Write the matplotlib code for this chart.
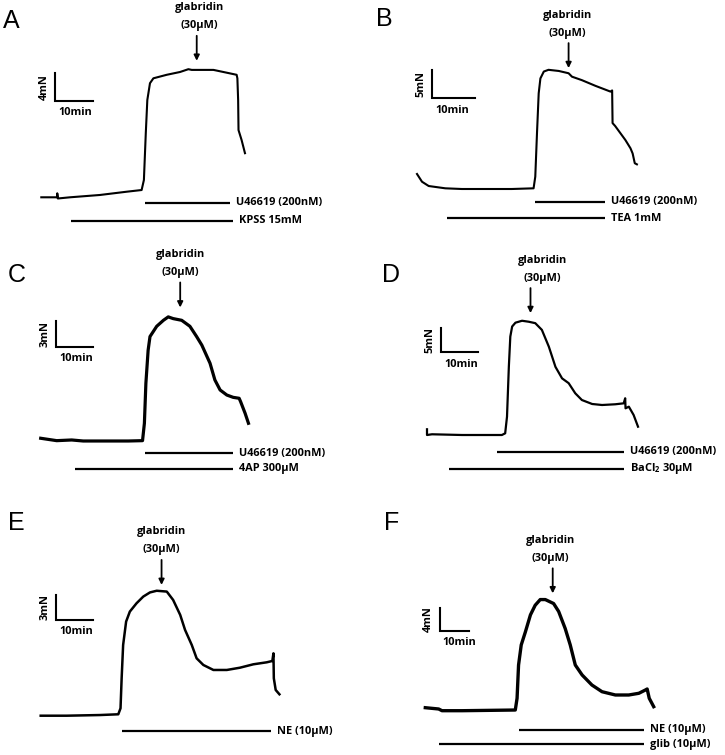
import numpy as np
import matplotlib.pyplot as plt

plt.rcParams['font.family'] = ['Open Sans', 'DejaVu Sans']
plt.rcParams['mathtext.fontset'] = 'custom'
plt.rcParams['mathtext.rm'] = 'Open Sans:bold'

W, H = 725, 755
PT = 0.72  # points per pixel at dpi 100
FS = 7.9

# ---- traces: time (min) vs tension (mN) ----
a_t = [0, 4.2, 4.2, 4.35, 7.55, 15.4, 22.5, 26.4, 27.0, 27.5, 27.9, 28.6, 29.5, 33.0, 36.5, 38.7,
       39.6, 41.8, 45.3, 48.8, 51.4, 51.6, 51.8, 51.9, 52.7, 53.6]
a_f = [0, 0, 0.57, -0.17, 0, 0.33, 0.8, 1.04, 2.47, 9.19, 13.9, 16.3, 17.0, 17.5, 17.9, 18.3,
       18.2, 18.2, 18.2, 17.8, 17.5, 17.0, 13.9, 9.6, 8.2, 6.3]

b_t = [0, 1.17, 2.74, 6.63, 10.5, 22.2, 27.3, 27.7, 28.1, 28.5, 28.9, 29.7, 30.8, 33.2, 35.5,
       36.3, 38.6, 41.8, 45.3, 45.7, 45.8, 46.4, 48.8, 50.0, 50.5, 51.0, 51.5]
b_f = [2.62, 1.27, 0.52, 0.12, 0, 0, 0.12, 2.15, 9.72, 16.7, 19.3, 20.5, 20.8, 20.6, 20.2,
       19.6, 19.0, 18.0, 17.0, 17.2, 11.5, 11.0, 8.55, 7.1, 6.2, 4.5, 4.3]

c_t = [0, 4.29, 8.31, 11.4, 23.5, 27.3, 27.8, 28.2, 28.8, 29.3, 30.2, 31.1, 32.9, 34.2, 35.5,
       37.8, 40.0, 41.8, 43.2, 45.4, 46.7, 48.1, 49.9, 51.6, 53.2, 53.6, 54.8, 55.7]
c_f = [0.32, 0.04, 0.12, 0, 0, 0.04, 2.07, 6.74, 10.6, 12.2, 12.8, 13.4, 14.1, 14.5, 14.3,
       14.1, 13.4, 12.2, 11.2, 9.08, 7.13, 5.96, 5.37, 5.1, 4.99, 4.59, 3.24, 2.07]

d_t = [0, 0, 1.36, 9.54, 20.4, 21.3, 21.8, 22.3, 22.7, 23.2, 24.1, 25.9, 27.7, 29.5, 31.3,
       33.2, 35.0, 36.8, 38.6, 40.4, 42.2, 45.0, 47.7, 51.3, 53.6, 54.0, 54.1, 55.0, 56.3, 57.5]
d_f = [1.19, 0, 0.15, 0, 0, 0.35, 3.81, 14.2, 20.5, 22.6, 23.4, 23.8, 23.6, 23.3, 21.9,
       18.4, 14.2, 11.8, 10.8, 8.69, 7.29, 6.46, 6.25, 6.4, 6.6, 7.65, 5.56, 5.9, 4.17, 1.73]

e_t = [0, 6.97, 15.9, 20.8, 21.4, 21.7, 22.1, 22.9, 23.9, 25.7, 27.5, 29.3, 31.1, 33.8, 35.5,
       37.4, 38.7, 40.5, 41.8, 43.6, 46.3, 49.9, 53.4, 57.0, 60.6, 62.1, 62.4, 62.5, 63.0, 64.0]
e_f = [0, 0, 0.08, 0.17, 0.89, 4.49, 8.49, 11.3, 12.5, 13.5, 14.3, 14.8, 15.0, 14.9, 13.9,
       12.1, 10.3, 8.49, 6.89, 6.09, 5.49, 5.49, 5.76, 6.17, 6.41, 6.57, 7.49, 4.49, 3.09, 2.57]

f_t = [0, 4.51, 5.62, 12.4, 30.3, 30.9, 31.4, 32.3, 33.7, 35.4, 37.0, 38.7, 40.4, 43.2, 44.9,
       47.1, 48.8, 50.5, 52.8, 56.1, 59.5, 64.0, 68.5, 71.9, 74.1, 74.7, 75.4, 76.9]
f_f = [0.53, 0.3, 0, 0, 0.12, 2.19, 8.06, 11.6, 13.9, 16.9, 18.6, 19.6, 19.6, 18.9, 17.5,
       14.5, 11.6, 8.06, 6.3, 4.53, 3.35, 2.77, 2.77, 3.07, 3.65, 3.83, 2.19, 0.71]

# drug application bars: (label, start min, end min)
a_drugs = [("U46619 (200nM)", 27.3, 49.7), ("KPSS 15mM", 7.8, 50.4)]
b_drugs = [("U46619 (200nM)", 27.6, 44.0), ("TEA 1mM", 7.0, 44.0)]
c_drugs = [("U46619 (200nM)", 28.0, 51.6), ("4AP 300\u00b5M", 9.2, 51.6)]
d_drugs = [("U46619 (200nM)", 19.1, 53.6), ("BaCl$_\\mathregular{2}$ 30\u00b5M", 6.1, 53.6)]
e_drugs = [("NE (10\u00b5M)", 21.9, 61.7)]
f_drugs = [("NE (10\u00b5M)", 31.6, 73.5), ("glib (10\u00b5M)", 4.5, 73.5)]

# glabridin addition time (min)
glab_t = [40.9, 35.5, 37.4, 28.2, 32.4, 42.9]
# vertical scale bar size (mN), horizontal is 10 min
scale_mn = [4, 5, 3, 5, 3, 4]

fig = plt.figure(figsize=(7.25, 7.55), dpi=100)


def panel_axes(ox, oy, sx, sy):
    # full-figure axes, origin at pixel (ox, oy), sx px/min, sy px/mN
    ax = fig.add_axes([0, 0, 1, 1], facecolor='none')
    ax.set_xlim(-ox / sx, (W - ox) / sx)
    ax.set_ylim((oy - H) / sy, oy / sy)
    ax.axis('off')
    return ax


def draw(ax, t, f, lw, drugs, levels, gt, gtip, gdx, sb, mn):
    ax.plot(t, f, color='k', lw=lw, solid_joinstyle='round')
    for (name, t0, t1), lv in zip(drugs, levels):
        ax.plot([t0, t1], [lv, lv], color='k', lw=1.6, solid_capstyle='butt')
        ax.annotate(name, (t1, lv), xytext=(6 * PT, 0), textcoords='offset points',
                    ha='left', va='center', fontsize=FS, fontweight='bold')
    ax.annotate('', xy=(gt, gtip), xytext=(0, 25 * PT), textcoords='offset points',
                arrowprops=dict(arrowstyle='-|>', color='k', lw=1.3, mutation_scale=8,
                                shrinkA=0, shrinkB=0))
    ax.annotate('(30\u00b5M)', (gt, gtip), xytext=(gdx * PT, 35 * PT), textcoords='offset points',
                ha='center', va='center', fontsize=FS, fontweight='bold')
    ax.annotate('glabridin', (gt, gtip), xytext=(gdx * PT, 53 * PT), textcoords='offset points',
                ha='center', va='center', fontsize=FS, fontweight='bold')
    x0, y0 = sb
    ax.plot([x0, x0, x0 + 10], [y0 + mn, y0, y0], color='k', lw=1.5, solid_joinstyle='miter')
    ax.annotate(f'{mn}mN', (x0, y0 + mn / 2), xytext=(-11 * PT, 0), textcoords='offset points',
                ha='center', va='center', rotation=90, fontsize=FS, fontweight='bold')
    ax.annotate('10min', (x0, y0), xytext=(3 * PT, -12 * PT), textcoords='offset points',
                ha='left', va='center', fontsize=FS, fontweight='bold')


axA = panel_axes(41.3, 197.3, 3.8, 7.0)
draw(axA, a_t, a_f, 1.5, a_drugs, [-0.77, -3.34], glab_t[0], 19.5, 3, (3.6, 13.8), scale_mn[0])

axB = panel_axes(417, 189, 4.27, 5.73)
draw(axB, b_t, b_f, 1.5, b_drugs, [-2.22, -5.11], glab_t[1], 21.1, -1, (3.5, 15.8), scale_mn[1])

axC = panel_axes(40.7, 441, 3.73, 8.56)
draw(axC, c_t, c_f, 2.3, c_drugs, [-1.44, -3.27], glab_t[2], 15.6, 0, (4.1, 11.0), scale_mn[2])

axD = panel_axes(427, 435, 3.67, 4.8)
draw(axD, d_t, d_f, 1.6, d_drugs, [-3.48, -7.08], glab_t[3], 25.4, 12, (3.8, 17.2), scale_mn[3])

axE = panel_axes(40.7, 715.7, 3.73, 8.33)
draw(axE, e_t, e_f, 1.8, e_drugs, [-1.84], glab_t[4], 15.7, 0, (4.1, 11.5), scale_mn[4])

axF = panel_axes(425.3, 710.7, 2.97, 5.67)
draw(axF, f_t, f_f, 2.4, f_drugs, [-3.40, -5.93], glab_t[5], 20.7, -2, (4.85, 14.1), scale_mn[5])

# panel letters
for lab, px, py in [("A", 3, 21), ("B", 376, 19), ("C", 8, 275),
                    ("D", 382, 275), ("E", 8, 523), ("F", 384, 523)]:
    fig.text(px / W, 1 - py / H, lab, fontsize=18, family='Liberation Sans',
             ha='left', va='center')

fig.savefig("out.png", dpi=100)
